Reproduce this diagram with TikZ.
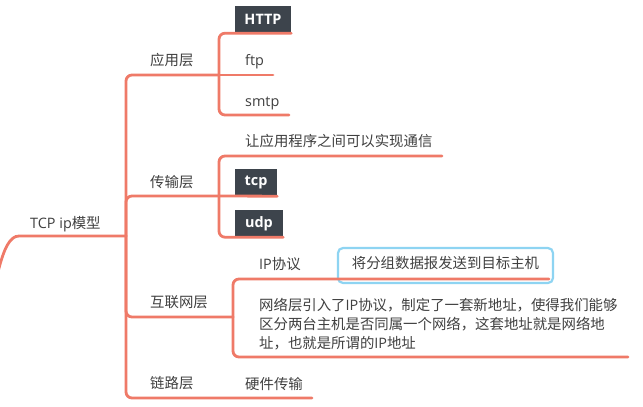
\documentclass[tikz,border=0pt]{standalone}
\usepackage{fontspec}
\setmainfont{Open Sans}
\newfontfamily\cjk{Noto Sans CJK SC}
\definecolor{branchc}{HTML}{EF7A68}
\definecolor{boxc}{HTML}{3D444C}
\definecolor{txtc}{HTML}{404040}
\definecolor{bluec}{HTML}{8ED4F2}
\begin{document}
\begin{tikzpicture}[x=1pt,y=-1pt,
  branch/.style={draw=branchc, line width=2.8pt, rounded corners=6pt, line cap=round},
  lbl/.style={anchor=base west, inner sep=0pt, text=txtc, font=\fontsize{14.4}{19}\selectfont},
  darkbox/.style={fill=boxc, text=white, inner sep=0pt, minimum height=27pt, font=\fontsize{14.4}{17}\selectfont\bfseries},
  bluebox/.style={draw=bluec, line width=2.2pt, rounded corners=5pt, inner sep=0pt, minimum width=215pt, minimum height=35pt, text height=11pt, text depth=5pt, text=txtc, font=\fontsize{14.4}{17}\selectfont}]
\useasboundingbox (0,0) rectangle (643,407);
\fill[white] (0,0) rectangle (643,407);

% junctions and free ends
\coordinate (rootS) at (-2,272);
\coordinate (rootL) at (25,236);
\coordinate (rootJ) at (126,236);
\coordinate (appJ) at (219,75);
\coordinate (trJ) at (219,196);
\coordinate (netJ) at (233,317);
\coordinate (linkEnd) at (312,398);
\coordinate (ftpEnd) at (273,75);
\coordinate (smtpEnd) at (289,115);
\coordinate (commEnd) at (442,156);
\coordinate (ipEnd) at (549,279);
\coordinate (bigEnd) at (628,357);

% text nodes
\node[lbl] (root) at (30,228) {TCP ip{\cjk 模型}};
\node[lbl] (app) at (150,65.5) {\cjk 应用层};
\node[lbl] (tr) at (150,187.5) {\cjk 传输层};
\node[lbl] (net) at (150,307.5) {\cjk 互联网层};
\node[lbl] (link) at (150,388.5) {\cjk 链路层};
\node[darkbox, minimum width=56pt] (http) at (263,19.5) {HTTP};
\node[lbl] (ftp) at (245,65) {ftp};
\node[lbl] (smtp) at (245,106) {smtp};
\node[lbl] (comm) at (245,146) {\cjk 让应用程序之间可以实现通信};
\node[darkbox, minimum width=42pt] (tcp) at (256,182.5) {tcp};
\node[darkbox, minimum width=48pt] (udp) at (259,223.5) {udp};
\node[lbl] (ip) at (259,269) {IP{\cjk 协议}};
\node[bluebox] (ipdesc) at (445.5,265.5) {\cjk 将分组数据报发送到目标主机};
\node[lbl, align=left] (big) at (259,348.5) {{\cjk 网络层引入了}IP{\cjk 协议，制定了一套新地址，使得我们能够}\\{\cjk 区分两台主机是否同属一个网络，这套地址就是网络地}\\{\cjk 址，也就是所谓的}IP{\cjk 地址}};
\node[lbl] (hw) at (245,389) {\cjk 硬件传输};

% connectors
\draw[branch] (rootS) .. controls (4,248) and (10,236) .. (rootL) -- (rootJ);
\draw[branch] (rootJ) |- (appJ);
\draw[branch] (rootJ) |- (trJ);
\draw[branch] (rootJ) |- (netJ);
\draw[branch] (rootJ) |- (linkEnd);
\draw[branch] (appJ) |- (http.south east);
\draw[branch] (appJ) -- (ftpEnd);
\draw[branch] (appJ) |- (smtpEnd);
\draw[branch] (trJ) |- (commEnd);
\draw[branch] (trJ) -- (tcp.south east);
\draw[branch] (trJ) |- (udp.south east);
\draw[branch] (netJ) |- (ipEnd);
\draw[branch] (netJ) |- (bigEnd);
\end{tikzpicture}
\end{document}
